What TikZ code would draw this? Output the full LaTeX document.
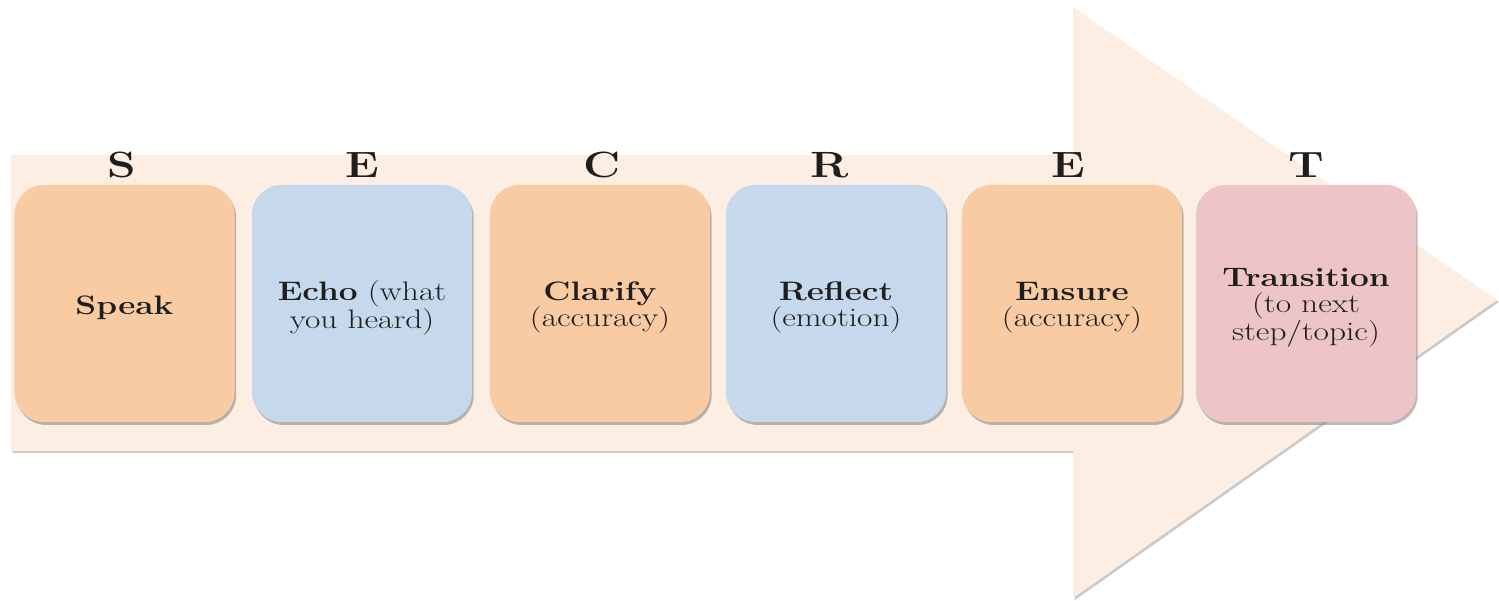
\documentclass[tikz,border=0pt]{standalone}
\usepackage{fontspec}
\setmainfont{Latin Modern Roman}[FakeStretch=1.25]
\usetikzlibrary{shadows}
\definecolor{arrowfill}{HTML}{FDEEE3}
\definecolor{orangebox}{HTML}{F8CBA3}
\definecolor{bluebox}{HTML}{C6D9EC}
\definecolor{pinkbox}{HTML}{EEC5C6}
\definecolor{txt}{HTML}{1E1E1E}
\tikzset{
  px/.style={x=0.025cm,y=-0.025cm},
  stepbox/.style={rounded corners=0.75cm, minimum width=5.5cm, minimum height=5.93cm,
    draw=none, inner sep=0pt,
    drop shadow={shadow xshift=1.2pt, shadow yshift=-2pt, opacity=0.45, fill=black!60}},
  steptext/.style={align=center, text=txt, font=\fontsize{19}{18.4}\selectfont, yshift=-3pt},
  letter/.style={font=\fontsize{26}{26}\selectfont\bfseries, text=txt, inner sep=0pt}
}
\begin{document}
\begin{tikzpicture}[px]
\useasboundingbox (0,0) rectangle (1499,600);
\fill[arrowfill, drop shadow={shadow xshift=1.2pt, shadow yshift=-1.5pt, opacity=0.35, fill=black!60}]
  (11,155) -- (1073,155) -- (1073,7) -- (1497,300) -- (1073,598) -- (1073,451) -- (11,451) -- cycle;
\node[stepbox, fill=orangebox] (s) at (124.5,303.5) {};
\node[stepbox, fill=bluebox] (e1) at (362,303.5) {};
\node[stepbox, fill=orangebox] (c) at (600,303.5) {};
\node[stepbox, fill=bluebox] (r) at (836,303.5) {};
\node[stepbox, fill=orangebox] (e2) at (1072,303.5) {};
\node[stepbox, fill=pinkbox] (t) at (1306,303.5) {};
\node[steptext] (st) at (s.center) {\textbf{Speak}};
\node[steptext] (e1t) at (e1.center) {\textbf{Echo} (what\\you heard)};
\node[steptext] (ct) at (c.center) {\textbf{Clarify}\\(accuracy)};
\node[steptext] (rt) at (r.center) {\textbf{Reflect}\\(emotion)};
\node[steptext] (e2t) at (e2.center) {\textbf{Ensure}\\(accuracy)};
\node[steptext] (tt) at (t.center) {\textbf{Transition}\\(to next\\step/topic)};
\node[letter] (ls) at (122,165) {S};
\node[letter] (le1) at (362,165) {E};
\node[letter] (lc) at (602,165) {C};
\node[letter] (lr) at (830,165) {R};
\node[letter] (le2) at (1068,165) {E};
\node[letter] (lt) at (1306,165) {T};
\end{tikzpicture}
\end{document}
